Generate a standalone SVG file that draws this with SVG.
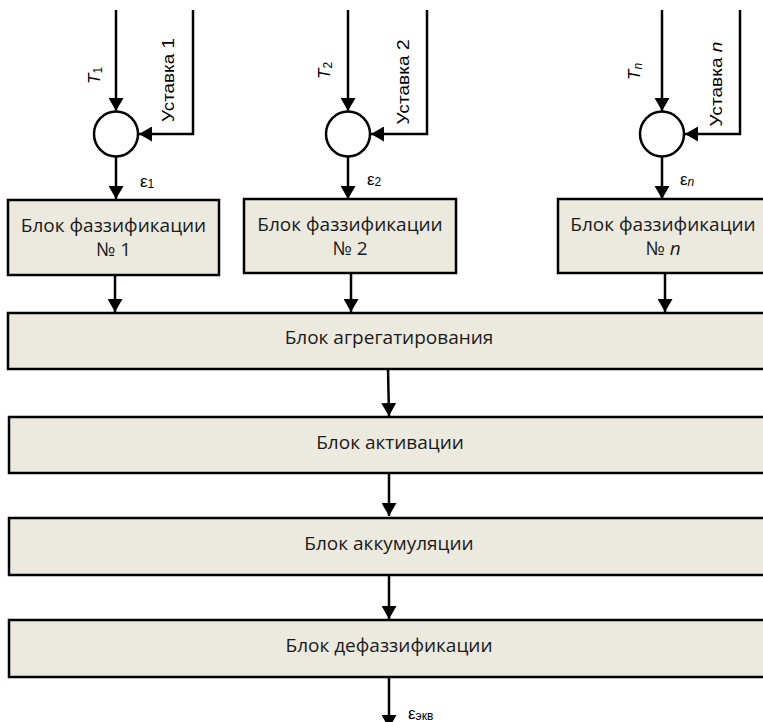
<svg xmlns="http://www.w3.org/2000/svg" width="763" height="722" viewBox="0 0 763 722">
<defs>
<marker id="ah" viewBox="0 0 13 15" markerWidth="13" markerHeight="15" refX="13" refY="7.5" orient="auto" markerUnits="userSpaceOnUse">
<path d="M0,0 L13,7.5 L0,15 z" fill="#000"/>
</marker>
</defs>
<style>
.box{fill:#ECE9DF;stroke:#000;stroke-width:2.5}
.sum{fill:#fff;stroke:#000;stroke-width:2.5}
.ln{fill:none;stroke:#000;stroke-width:2.5;marker-end:url(#ah)}
.t{font-family:"Open Sans","Noto Sans",sans-serif;font-size:19px;fill:#1a1a1a;text-anchor:middle}
.lb{font-family:"Liberation Sans",Arial,sans-serif;font-size:17px;fill:#000}
.sub{font-size:12px}
.it{font-style:italic}
</style>
<rect width="763" height="722" fill="#fff"/>
<g id="connectors">
<line class="ln" x1="116" y1="10" x2="116" y2="111"/>
<polyline class="ln" points="193,10 193,134 139,134"/>
<line class="ln" x1="116" y1="157" x2="116" y2="199"/>
<line class="ln" x1="348" y1="10" x2="348" y2="111"/>
<polyline class="ln" points="427,10 427,134 371,134"/>
<line class="ln" x1="348" y1="157" x2="348" y2="199"/>
<line class="ln" x1="662" y1="10" x2="662" y2="111"/>
<polyline class="ln" points="740,10 740,134 685,134"/>
<line class="ln" x1="662" y1="157" x2="662" y2="199"/>
<line class="ln" x1="115" y1="275" x2="115" y2="312"/>
<line class="ln" x1="351" y1="273" x2="351" y2="312"/>
<line class="ln" x1="665" y1="273" x2="665" y2="312"/>
<line class="ln" x1="388" y1="369" x2="389" y2="416"/>
<line class="ln" x1="389" y1="473" x2="389" y2="516"/>
<line class="ln" x1="389" y1="575" x2="389" y2="619"/>
<line class="ln" x1="389" y1="677" x2="389" y2="728"/>
</g>
<g id="sum1"><ellipse class="sum" cx="116" cy="134" rx="22" ry="22.5"/></g>
<g id="sum2"><ellipse class="sum" cx="348" cy="134" rx="22" ry="22.5"/></g>
<g id="sumn"><ellipse class="sum" cx="662" cy="134" rx="22" ry="22.5"/></g>
<g id="labels">
<text class="lb" transform="translate(100,84) rotate(-90)"><tspan class="it">T</tspan><tspan class="sub" dy="2">1</tspan></text>
<text class="lb" transform="translate(174,80) rotate(-90)" text-anchor="middle" textLength="84" lengthAdjust="spacingAndGlyphs">Уставка 1</text>
<text class="lb" transform="translate(330,79) rotate(-90)"><tspan class="it">T</tspan><tspan class="sub" dy="2">2</tspan></text>
<text class="lb" transform="translate(409,82) rotate(-90)" text-anchor="middle" textLength="85" lengthAdjust="spacingAndGlyphs">Уставка 2</text>
<text class="lb" transform="translate(640,80) rotate(-90)"><tspan class="it">T</tspan><tspan class="sub it" dy="2">n</tspan></text>
<text class="lb" transform="translate(722,84) rotate(-90)" text-anchor="middle" textLength="85" lengthAdjust="spacingAndGlyphs">Уставка <tspan class="it">n</tspan></text>
<text class="lb" x="140" y="187">ε<tspan class="sub" dy="1">1</tspan></text>
<text class="lb" x="367" y="185">ε<tspan class="sub" dy="1">2</tspan></text>
<text class="lb" x="680" y="185">ε<tspan class="sub it" dy="1">n</tspan></text>
<text class="lb" x="408" y="719">ε<tspan class="sub" dy="1">экв</tspan></text>
</g>
<g id="fuzz1">
<rect class="box" x="8" y="200" width="211" height="75"/>
<text class="t" x="113.5" y="232">Блок фаззификации</text>
<text class="t" x="113.5" y="256">№ 1</text>
</g>
<g id="fuzz2">
<rect class="box" x="244" y="199" width="212" height="74"/>
<text class="t" x="350" y="231">Блок фаззификации</text>
<text class="t" x="350" y="255">№ 2</text>
</g>
<g id="fuzzn">
<rect class="box" x="558" y="199" width="215" height="74"/>
<text class="t" x="663" y="231">Блок фаззификации</text>
<text class="t" x="663" y="255">№ <tspan class="it">n</tspan></text>
</g>
<g id="agg">
<rect class="box" x="8" y="313" width="765" height="56"/>
<text class="t" x="389" y="344">Блок агрегатирования</text>
</g>
<g id="act">
<rect class="box" x="9" y="417" width="764" height="56"/>
<text class="t" x="390" y="449">Блок активации</text>
</g>
<g id="acc">
<rect class="box" x="9" y="518" width="764" height="57"/>
<text class="t" x="389" y="550">Блок аккумуляции</text>
</g>
<g id="defuzz">
<rect class="box" x="9" y="620" width="764" height="57"/>
<text class="t" x="389" y="652">Блок дефаззификации</text>
</g>
</svg>
